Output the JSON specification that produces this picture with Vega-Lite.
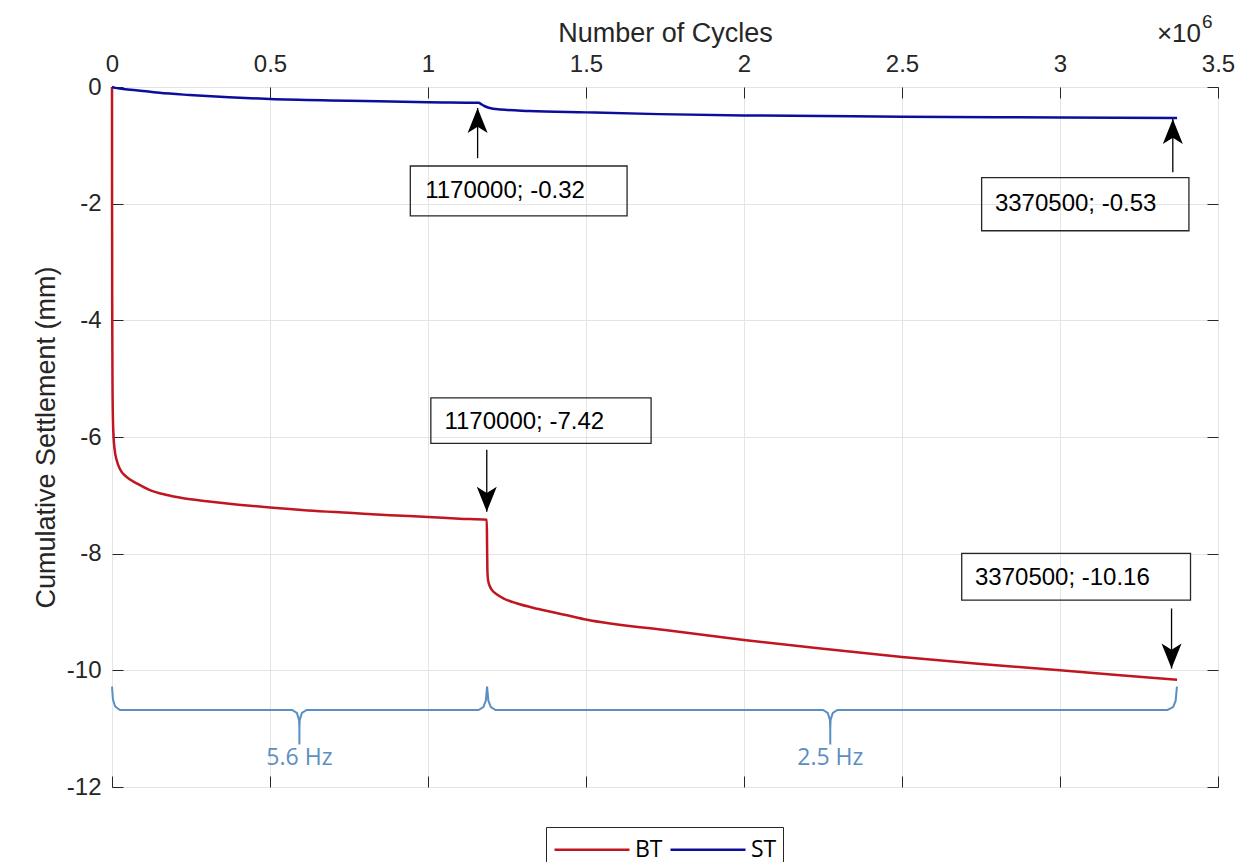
{
  "$schema": "https://vega.github.io/schema/vega-lite/v6.json",
  "width": 1106,
  "height": 700,
  "autosize": {"type": "none"},
  "padding": {"left": 112, "top": 87, "right": 28, "bottom": 75},
  "background": "white",
  "config": {
    "font": "Liberation Sans",
    "view": {"stroke": "#262626", "strokeWidth": 1},
    "axis": {
      "domain": false,
      "labelFont": "Liberation Sans",
      "labelFontSize": 24,
      "labelColor": "#262626",
      "titleFont": "Liberation Sans",
      "titleFontSize": 27,
      "titleFontWeight": "normal",
      "titleColor": "#262626",
      "tickColor": "#262626",
      "tickWidth": 1,
      "gridColor": "#e4e4e4",
      "gridWidth": 1,
      "labelFlush": false,
      "labelOverlap": false
    }
  },
  "datasets": {
    "curves": [
      {"series": "BT", "cycles": 0, "mm": 0},
      {"series": "BT", "cycles": 200, "mm": -2.0},
      {"series": "BT", "cycles": 800, "mm": -4.0},
      {"series": "BT", "cycles": 1500, "mm": -5.0},
      {"series": "BT", "cycles": 3000, "mm": -5.7},
      {"series": "BT", "cycles": 5000, "mm": -6.0},
      {"series": "BT", "cycles": 8000, "mm": -6.2},
      {"series": "BT", "cycles": 15000, "mm": -6.4},
      {"series": "BT", "cycles": 25000, "mm": -6.55},
      {"series": "BT", "cycles": 45000, "mm": -6.68},
      {"series": "BT", "cycles": 80000, "mm": -6.8},
      {"series": "BT", "cycles": 120000, "mm": -6.91},
      {"series": "BT", "cycles": 170000, "mm": -6.99},
      {"series": "BT", "cycles": 226000, "mm": -7.05},
      {"series": "BT", "cycles": 300000, "mm": -7.1},
      {"series": "BT", "cycles": 400000, "mm": -7.16},
      {"series": "BT", "cycles": 500000, "mm": -7.21},
      {"series": "BT", "cycles": 620000, "mm": -7.26},
      {"series": "BT", "cycles": 750000, "mm": -7.3},
      {"series": "BT", "cycles": 880000, "mm": -7.34},
      {"series": "BT", "cycles": 1000000, "mm": -7.37},
      {"series": "BT", "cycles": 1100000, "mm": -7.4},
      {"series": "BT", "cycles": 1186000, "mm": -7.42},
      {"series": "BT", "cycles": 1187000, "mm": -7.9},
      {"series": "BT", "cycles": 1188000, "mm": -8.3},
      {"series": "BT", "cycles": 1190000, "mm": -8.45},
      {"series": "BT", "cycles": 1195000, "mm": -8.55},
      {"series": "BT", "cycles": 1205000, "mm": -8.64},
      {"series": "BT", "cycles": 1216000, "mm": -8.69},
      {"series": "BT", "cycles": 1240000, "mm": -8.77},
      {"series": "BT", "cycles": 1280000, "mm": -8.85},
      {"series": "BT", "cycles": 1350000, "mm": -8.95},
      {"series": "BT", "cycles": 1450000, "mm": -9.07},
      {"series": "BT", "cycles": 1500000, "mm": -9.13},
      {"series": "BT", "cycles": 1750000, "mm": -9.31},
      {"series": "BT", "cycles": 2000000, "mm": -9.48},
      {"series": "BT", "cycles": 2250000, "mm": -9.63},
      {"series": "BT", "cycles": 2500000, "mm": -9.77},
      {"series": "BT", "cycles": 2750000, "mm": -9.89},
      {"series": "BT", "cycles": 3000000, "mm": -10.0},
      {"series": "BT", "cycles": 3200000, "mm": -10.09},
      {"series": "BT", "cycles": 3370500, "mm": -10.16},
      {"series": "ST", "cycles": 0, "mm": 0},
      {"series": "ST", "cycles": 10000, "mm": -0.015},
      {"series": "ST", "cycles": 30000, "mm": -0.03},
      {"series": "ST", "cycles": 76000, "mm": -0.055},
      {"series": "ST", "cycles": 150000, "mm": -0.1},
      {"series": "ST", "cycles": 245000, "mm": -0.137},
      {"series": "ST", "cycles": 370000, "mm": -0.175},
      {"series": "ST", "cycles": 500000, "mm": -0.206},
      {"series": "ST", "cycles": 750000, "mm": -0.234},
      {"series": "ST", "cycles": 1000000, "mm": -0.263},
      {"series": "ST", "cycles": 1160000, "mm": -0.272},
      {"series": "ST", "cycles": 1170000, "mm": -0.3},
      {"series": "ST", "cycles": 1180000, "mm": -0.33},
      {"series": "ST", "cycles": 1195000, "mm": -0.36},
      {"series": "ST", "cycles": 1230000, "mm": -0.385},
      {"series": "ST", "cycles": 1320000, "mm": -0.41},
      {"series": "ST", "cycles": 1500000, "mm": -0.435},
      {"series": "ST", "cycles": 1730000, "mm": -0.465},
      {"series": "ST", "cycles": 2000000, "mm": -0.487},
      {"series": "ST", "cycles": 2500000, "mm": -0.508},
      {"series": "ST", "cycles": 3000000, "mm": -0.522},
      {"series": "ST", "cycles": 3370500, "mm": -0.53}
    ],
    "brace": [
      {"i": 0, "cycles": 0, "mm": -10.28},
      {"i": 1, "cycles": 3000, "mm": -10.5},
      {"i": 2, "cycles": 10000, "mm": -10.62},
      {"i": 3, "cycles": 25000, "mm": -10.68},
      {"i": 4, "cycles": 570000, "mm": -10.68},
      {"i": 5, "cycles": 585000, "mm": -10.73},
      {"i": 6, "cycles": 592000, "mm": -10.85},
      {"i": 7, "cycles": 593000, "mm": -11.0},
      {"i": 8, "cycles": 593000, "mm": -11.27},
      {"i": 9, "cycles": 593000, "mm": -11.0},
      {"i": 10, "cycles": 594000, "mm": -10.85},
      {"i": 11, "cycles": 601000, "mm": -10.73},
      {"i": 12, "cycles": 616000, "mm": -10.68},
      {"i": 13, "cycles": 1160000, "mm": -10.68},
      {"i": 14, "cycles": 1175000, "mm": -10.63},
      {"i": 15, "cycles": 1183000, "mm": -10.52},
      {"i": 16, "cycles": 1187000, "mm": -10.28},
      {"i": 17, "cycles": 1191000, "mm": -10.52},
      {"i": 18, "cycles": 1199000, "mm": -10.63},
      {"i": 19, "cycles": 1214000, "mm": -10.68},
      {"i": 20, "cycles": 2250000, "mm": -10.68},
      {"i": 21, "cycles": 2265000, "mm": -10.73},
      {"i": 22, "cycles": 2272000, "mm": -10.85},
      {"i": 23, "cycles": 2273000, "mm": -11.0},
      {"i": 24, "cycles": 2273000, "mm": -11.27},
      {"i": 25, "cycles": 2273000, "mm": -11.0},
      {"i": 26, "cycles": 2274000, "mm": -10.85},
      {"i": 27, "cycles": 2281000, "mm": -10.73},
      {"i": 28, "cycles": 2296000, "mm": -10.68},
      {"i": 29, "cycles": 3340000, "mm": -10.68},
      {"i": 30, "cycles": 3358000, "mm": -10.63},
      {"i": 31, "cycles": 3366000, "mm": -10.52},
      {"i": 32, "cycles": 3370000, "mm": -10.28}
    ],
    "arrows": [
      {"dir": "up", "cycles": 1157000, "from": -1.22, "tip": -0.36},
      {"dir": "up", "cycles": 3357000, "from": -1.46, "tip": -0.55},
      {"dir": "down", "cycles": 1186000, "from": -6.22, "tip": -7.28},
      {"dir": "down", "cycles": 3353000, "from": -8.94, "tip": -9.97}
    ],
    "boxes": [
      {"label": "1170000; -0.32", "x1": 944000, "x2": 1630000, "y1": -1.354, "y2": -2.211, "tx": 991000, "ty": -1.783},
      {"label": "3370500; -0.53", "x1": 2752000, "x2": 3408000, "y1": -1.555, "y2": -2.464, "tx": 2794000, "ty": -2.009},
      {"label": "1170000; -7.42", "x1": 1009000, "x2": 1706000, "y1": -5.33, "y2": -6.108, "tx": 1052000, "ty": -5.74},
      {"label": "3370500; -10.16", "x1": 2689000, "x2": 3413000, "y1": -7.994, "y2": -8.795, "tx": 2731000, "ty": -8.409}
    ],
    "hz": [
      {"label": "5.6 Hz", "cycles": 593000, "mm": -11.51},
      {"label": "2.5 Hz", "cycles": 2273000, "mm": -11.51}
    ]
  },
  "layer": [
    {
      "data": {"name": "curves"},
      "mark": {"type": "line", "strokeWidth": 2.5, "interpolate": "monotone"},
      "encoding": {
        "x": {
          "field": "cycles", "type": "quantitative",
          "scale": {"domain": [0, 3500000], "nice": false, "zero": false},
          "axis": {
            "orient": "top",
            "title": "Number of Cycles",
            "values": [0, 500000, 1000000, 1500000, 2000000, 2500000, 3000000, 3500000],
            "labelExpr": "datum.value / 1000000 + ''",
            "tickSize": -11,
            "labelPadding": 22,
            "titlePadding": 5,
            "grid": true
          }
        },
        "y": {
          "field": "mm", "type": "quantitative",
          "scale": {"domain": [-12, 0], "nice": false, "zero": false},
          "axis": {
            "orient": "left",
            "title": "Cumulative Settlement (mm)",
            "values": [-12, -10, -8, -6, -4, -2, 0],
            "labelExpr": "datum.value + ''",
            "tickSize": -11,
            "labelPadding": 22,
            "titlePadding": 6,
            "grid": true
          }
        },
        "color": {
          "field": "series", "type": "nominal",
          "scale": {"domain": ["BT", "ST"], "range": ["#c0161f", "#0d0d9c"]},
          "legend": {
            "orient": "none",
            "legendX": 434,
            "legendY": 740,
            "direction": "horizontal",
            "title": null,
            "symbolType": "M-0.933,0L4.067,0",
            "symbolSize": 900,
            "symbolStrokeWidth": 2.5,
            "labelFont": "Open Sans",
            "labelFontSize": 23,
            "labelColor": "#000000",
            "labelOffset": 50,
            "columnPadding": 2,
            "padding": 6,
            "strokeColor": "#262626",
            "fillColor": "white"
          }
        }
      }
    },
    {
      "data": {"name": "brace"},
      "mark": {"type": "line", "strokeWidth": 2, "color": "#5a8fc2"},
      "encoding": {
        "x": {
          "field": "cycles", "type": "quantitative",
          "axis": {
            "orient": "bottom", "title": null, "labels": false, "grid": false,
            "values": [0, 500000, 1000000, 1500000, 2000000, 2500000, 3000000, 3500000],
            "tickSize": -11
          }
        },
        "y": {
          "field": "mm", "type": "quantitative",
          "axis": {
            "orient": "right", "title": null, "labels": false, "grid": false,
            "values": [-12, -10, -8, -6, -4, -2, 0],
            "tickSize": -11
          }
        },
        "order": {"field": "i", "type": "quantitative"}
      }
    },
    {
      "data": {"name": "hz"},
      "mark": {"type": "text", "font": "Open Sans", "fontSize": 23, "color": "#5a8fc2", "align": "center", "baseline": "middle"},
      "encoding": {
        "x": {"field": "cycles", "type": "quantitative", "axis": null},
        "y": {"field": "mm", "type": "quantitative", "axis": null},
        "text": {"field": "label"}
      }
    },
    {
      "data": {"name": "arrows"},
      "mark": {"type": "rule", "color": "#000000", "strokeWidth": 1.3},
      "encoding": {
        "x": {"field": "cycles", "type": "quantitative", "axis": null},
        "y": {"field": "from", "type": "quantitative", "axis": null},
        "y2": {"field": "tip"}
      }
    },
    {
      "data": {"name": "arrows"},
      "transform": [{"filter": "datum.dir == 'up'"}],
      "mark": {"type": "point", "filled": true, "opacity": 1, "color": "#000000", "size": 625, "shape": "M0,0 L0.8,2 L0,1.5 L-0.8,2 Z"},
      "encoding": {
        "x": {"field": "cycles", "type": "quantitative", "axis": null},
        "y": {"field": "tip", "type": "quantitative", "axis": null}
      }
    },
    {
      "data": {"name": "arrows"},
      "transform": [{"filter": "datum.dir == 'down'"}],
      "mark": {"type": "point", "filled": true, "opacity": 1, "color": "#000000", "size": 625, "shape": "M0,0 L0.8,-2 L0,-1.5 L-0.8,-2 Z"},
      "encoding": {
        "x": {"field": "cycles", "type": "quantitative", "axis": null},
        "y": {"field": "tip", "type": "quantitative", "axis": null}
      }
    },
    {
      "data": {"name": "boxes"},
      "mark": {"type": "rect", "fill": null, "fillOpacity": 0, "stroke": "#262626", "strokeWidth": 1.3},
      "encoding": {
        "x": {"field": "x1", "type": "quantitative", "axis": null},
        "x2": {"field": "x2"},
        "y": {"field": "y1", "type": "quantitative", "axis": null},
        "y2": {"field": "y2"}
      }
    },
    {
      "data": {"name": "boxes"},
      "mark": {"type": "text", "font": "Liberation Sans", "fontSize": 24, "color": "#000000", "align": "left", "baseline": "middle"},
      "encoding": {
        "x": {"field": "tx", "type": "quantitative", "axis": null},
        "y": {"field": "ty", "type": "quantitative", "axis": null},
        "text": {"field": "label"}
      }
    },
    {
      "data": {"values": [{"t": "×10"}]},
      "mark": {"type": "text", "font": "Liberation Sans", "fontSize": 26, "color": "#262626", "align": "right", "baseline": "alphabetic", "dx": -17, "dy": -45},
      "encoding": {
        "x": {"datum": 3500000, "type": "quantitative", "axis": null},
        "y": {"datum": 0, "type": "quantitative", "axis": null},
        "text": {"field": "t"}
      }
    },
    {
      "data": {"values": [{"t": "6"}]},
      "mark": {"type": "text", "font": "Liberation Sans", "fontSize": 19, "color": "#262626", "align": "left", "baseline": "alphabetic", "dx": -16, "dy": -59},
      "encoding": {
        "x": {"datum": 3500000, "type": "quantitative", "axis": null},
        "y": {"datum": 0, "type": "quantitative", "axis": null},
        "text": {"field": "t"}
      }
    }
  ],
  "resolve": {"axis": {"x": "independent", "y": "independent"}}
}
